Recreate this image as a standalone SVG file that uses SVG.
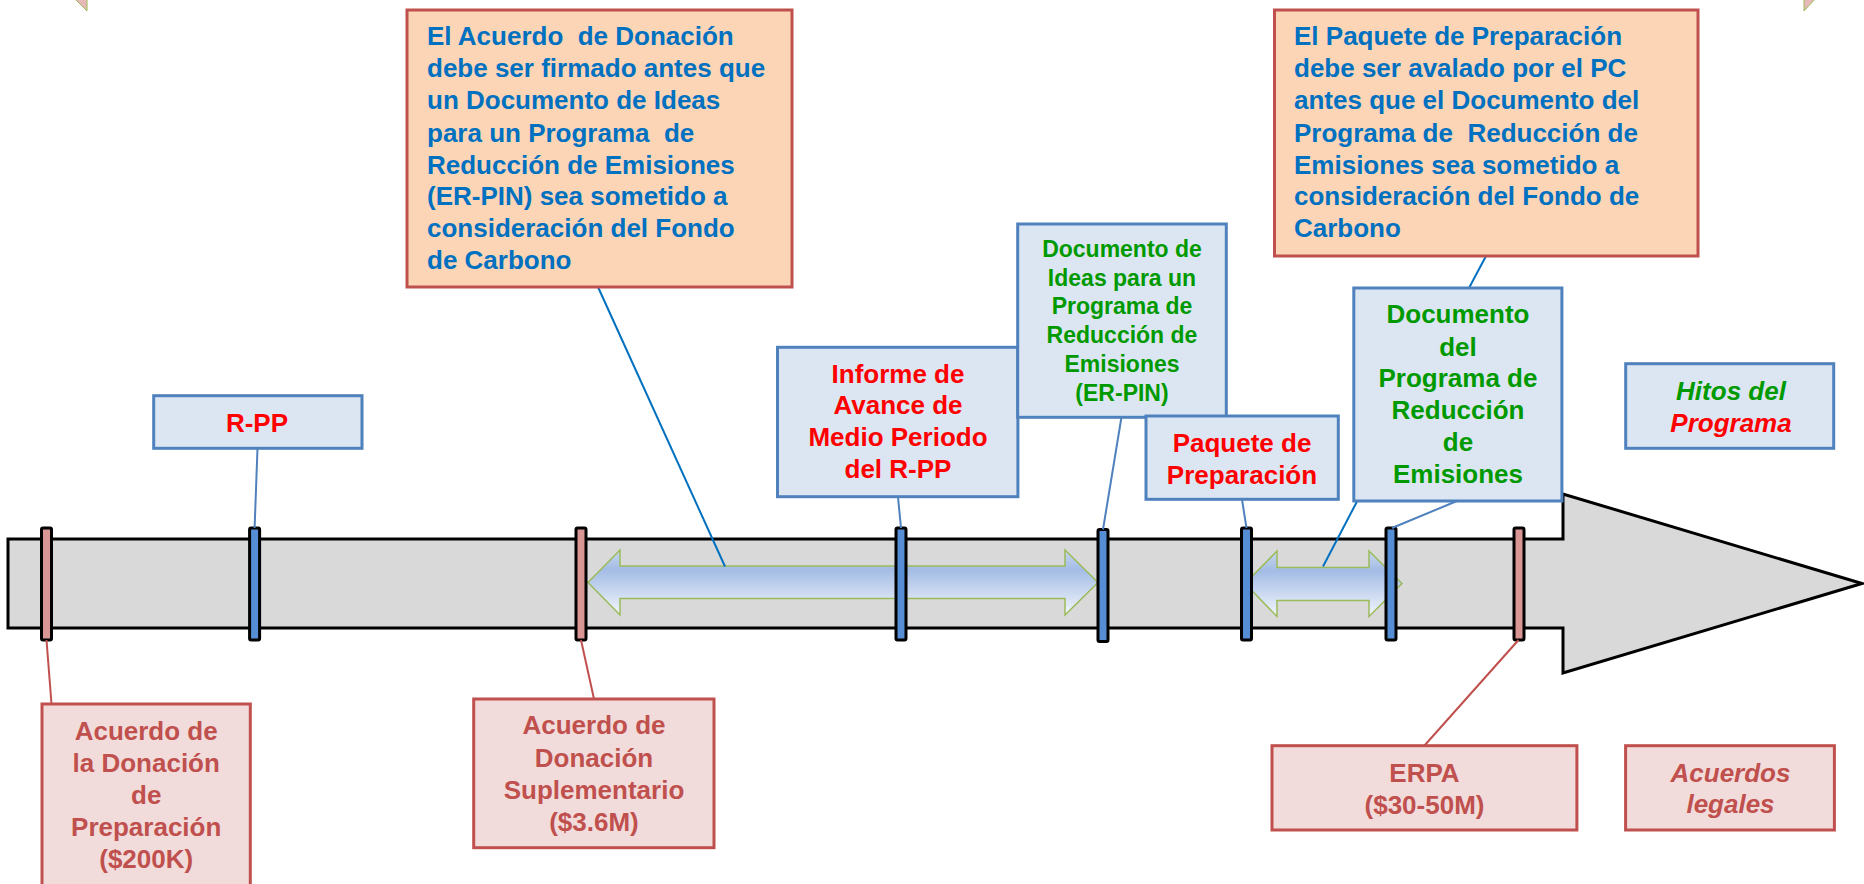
<svg xmlns="http://www.w3.org/2000/svg" width="1864" height="884" viewBox="0 0 1864 884">
<defs>
<linearGradient id="dg" x1="0" y1="0" x2="0" y2="1">
<stop offset="0" stop-color="#c9d7ef"/>
<stop offset="0.3" stop-color="#a3bce5"/>
<stop offset="1" stop-color="#f3f6fc"/>
</linearGradient>
<style>
text{font-family:"Liberation Sans",Arial,sans-serif;font-weight:bold;font-size:26px;white-space:pre}
.c{text-anchor:middle}
.it{font-style:italic}
.callout{fill:#fbd5b5;stroke:#c0504d;stroke-width:3}
.bbox{fill:#dce6f2;stroke:#4f81bd;stroke-width:3}
.pbox{fill:#f2dcdb;stroke:#c0504d;stroke-width:3}
.tb{fill:#0070c0}
.tr{fill:#ff0000}
.tg{fill:#009a00}
.tp{fill:#c0504d}
.tickp{fill:#d99694;stroke:#000;stroke-width:3}
.tickb{fill:#558ed5;stroke:#000;stroke-width:3}
.lb{stroke:#4f81bd;stroke-width:2;fill:none}
.lc{stroke:#0070c0;stroke-width:2;fill:none}
.lp{stroke:#c0504d;stroke-width:2;fill:none}
.darr{fill:url(#dg);stroke:#9bbb59;stroke-width:1.5}
.corner{fill:#e6b9b8;stroke:#9bbb59;stroke-width:1}
</style>
</defs>
<rect width="1864" height="884" fill="#ffffff"/>
<polygon class="corner" points="75,-1 87,-1 87,11"/>
<polygon class="corner" points="1804,-1 1815,-1 1804,11"/>
<g id="timeline">
<polygon points="8,539 1563,539 1563,494 1862,583.5 1563,673 1563,628 8,628" fill="#d9d9d9" stroke="#000" stroke-width="3"/>
<polygon class="darr" points="588,582.5 620,550 620,566 1065,566 1065,550 1098,582.5 1065,615 1065,598.5 620,598.5 620,615"/>
<polygon class="darr" points="1245,583.5 1277,551 1277,567.5 1369,567.5 1369,551 1402,583.5 1369,616.5 1369,600.5 1277,600.5 1277,616.5"/>
<rect class="tickp" x="41.5" y="528" width="10" height="112" rx="1.5"/>
<rect class="tickb" x="249.6" y="528" width="10" height="112" rx="1.5"/>
<rect class="tickp" x="576" y="528" width="10" height="112" rx="1.5"/>
<rect class="tickb" x="896" y="528" width="10" height="112" rx="1.5"/>
<rect class="tickb" x="1098" y="529.5" width="10" height="112" rx="1.5"/>
<rect class="tickb" x="1241.5" y="528" width="10" height="112" rx="1.5"/>
<rect class="tickb" x="1386" y="528" width="10" height="112" rx="1.5"/>
<rect class="tickp" x="1514" y="528" width="10" height="112" rx="1.5"/>
</g>
<g id="connectors">
<line class="lc" x1="598" y1="287" x2="725" y2="566.5"/>
<line class="lc" x1="1486" y1="256" x2="1469" y2="288"/>
<line class="lb" x1="257.5" y1="448" x2="254.6" y2="528"/>
<line class="lb" x1="898" y1="497" x2="901" y2="528"/>
<line class="lb" x1="1121.5" y1="417" x2="1103" y2="529.5"/>
<line class="lb" x1="1242" y1="499.5" x2="1246.5" y2="528"/>
<line class="lb" x1="1457" y1="501" x2="1392" y2="528"/>
<line class="lc" x1="1357" y1="501.5" x2="1323" y2="566.5"/>
<line class="lp" x1="46.5" y1="640" x2="51.5" y2="704"/>
<line class="lp" x1="581" y1="640" x2="594" y2="699"/>
<line class="lp" x1="1518.5" y1="640" x2="1424.5" y2="745.5"/>
</g>
<g id="callout-donacion">
<rect class="callout" x="407" y="10" width="385" height="277"/>
<text class="tb" x="427" y="45">El Acuerdo  de Donación</text>
<text class="tb" x="427" y="77">debe ser firmado antes que</text>
<text class="tb" x="427" y="109">un Documento de Ideas</text>
<text class="tb" x="427" y="141.5">para un Programa  de</text>
<text class="tb" x="427" y="173.5">Reducción de Emisiones</text>
<text class="tb" x="427" y="205">(ER-PIN) sea sometido a</text>
<text class="tb" x="427" y="237">consideración del Fondo</text>
<text class="tb" x="427" y="269">de Carbono</text>
</g>
<g id="callout-paquete">
<rect class="callout" x="1274.5" y="10" width="423.5" height="246"/>
<text class="tb" x="1294" y="45">El Paquete de Preparación</text>
<text class="tb" x="1294" y="77">debe ser avalado por el PC</text>
<text class="tb" x="1294" y="109">antes que el Documento del</text>
<text class="tb" x="1294" y="141.5">Programa de  Reducción de</text>
<text class="tb" x="1294" y="173.5">Emisiones sea sometido a</text>
<text class="tb" x="1294" y="205">consideración del Fondo de</text>
<text class="tb" x="1294" y="237">Carbono</text>
</g>
<g id="rpp">
<rect class="bbox" x="153.7" y="395.7" width="208.3" height="52.6"/>
<text class="tr c" x="257" y="431.5">R-PP</text>
</g>
<g id="informe">
<rect class="bbox" x="777.5" y="347.3" width="240.4" height="149.4"/>
<text class="tr c" x="898" y="382.5">Informe de</text>
<text class="tr c" x="898" y="414">Avance de</text>
<text class="tr c" x="898" y="446">Medio Periodo</text>
<text class="tr c" x="898" y="478">del R-PP</text>
</g>
<g id="erpin">
<rect class="bbox" x="1017.7" y="224" width="208.6" height="193.3"/>
<text class="tg c" x="1122" y="256.5" style="font-size:23px">Documento de</text>
<text class="tg c" x="1122" y="285.5" style="font-size:23px">Ideas para un</text>
<text class="tg c" x="1122" y="314.3" style="font-size:23px">Programa de</text>
<text class="tg c" x="1122" y="342.7" style="font-size:23px">Reducción de</text>
<text class="tg c" x="1122" y="371.7" style="font-size:23px">Emisiones</text>
<text class="tg c" x="1122" y="400.7" style="font-size:23px">(ER-PIN)</text>
</g>
<g id="paquete">
<rect class="bbox" x="1146" y="416" width="192.3" height="83.3"/>
<text class="tr c" x="1242" y="452.3">Paquete de</text>
<text class="tr c" x="1242" y="484">Preparación</text>
</g>
<g id="documento-programa">
<rect class="bbox" x="1353.8" y="288" width="208.1" height="213"/>
<text class="tg c" x="1458" y="323.3">Documento</text>
<text class="tg c" x="1458" y="355.5">del</text>
<text class="tg c" x="1458" y="387.3">Programa de</text>
<text class="tg c" x="1458" y="419.3">Reducción</text>
<text class="tg c" x="1458" y="451">de</text>
<text class="tg c" x="1458" y="482.7">Emisiones</text>
</g>
<g id="hitos">
<rect class="bbox" x="1625.7" y="363.7" width="208" height="84.6"/>
<text class="tg c it" x="1731" y="400">Hitos del</text>
<text class="tr c it" x="1731" y="431.7">Programa</text>
</g>
<g id="acuerdo-preparacion">
<rect class="pbox" x="42" y="704" width="208.3" height="182"/>
<text class="tp c" x="146.2" y="740">Acuerdo de</text>
<text class="tp c" x="146.2" y="772">la Donación</text>
<text class="tp c" x="146.2" y="803.5">de</text>
<text class="tp c" x="146.2" y="835.5">Preparación</text>
<text class="tp c" x="146.2" y="868">($200K)</text>
</g>
<g id="acuerdo-suplementario">
<rect class="pbox" x="473.7" y="699" width="240.3" height="148.7"/>
<text class="tp c" x="594" y="734">Acuerdo de</text>
<text class="tp c" x="594" y="766.5">Donación</text>
<text class="tp c" x="594" y="798.5">Suplementario</text>
<text class="tp c" x="594" y="831">($3.6M)</text>
</g>
<g id="erpa">
<rect class="pbox" x="1272" y="745.7" width="304.9" height="84.3"/>
<text class="tp c" x="1424.5" y="781.7">ERPA</text>
<text class="tp c" x="1424.5" y="814">($30-50M)</text>
</g>
<g id="acuerdos-legales">
<rect class="pbox" x="1625.6" y="745.7" width="208.8" height="84.3"/>
<text class="tp c it" x="1730.5" y="781.7">Acuerdos</text>
<text class="tp c it" x="1730.5" y="813.3">legales</text>
</g>
</svg>
